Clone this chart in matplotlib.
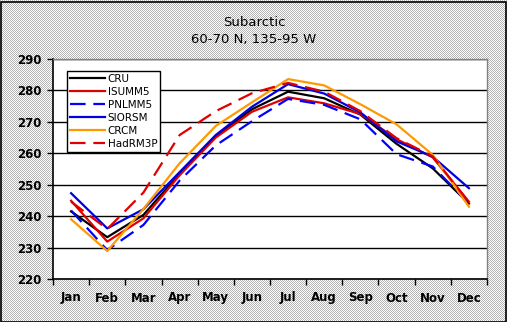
import numpy as np
import matplotlib.pyplot as plt
from matplotlib.patches import Rectangle

months = ['Jan', 'Feb', 'Mar', 'Apr', 'May', 'Jun',
          'Jul', 'Aug', 'Sep', 'Oct', 'Nov', 'Dec']

# monthly mean temperature (K)
cru = [241.5, 233.3, 240.4, 253.5, 265.5, 274.0, 279.6, 277.5, 272.3, 263.0, 255.2, 244.0]
isumm5 = [244.9, 231.9, 239.3, 253.0, 265.0, 273.2, 277.8, 275.9, 272.5, 264.5, 258.7, 244.6]
pnlmm5 = [241.8, 229.2, 237.2, 251.3, 262.5, 270.2, 277.3, 275.4, 270.8, 259.7, 255.8, 244.0]
siorsm = [247.3, 236.1, 242.2, 254.0, 265.8, 274.8, 282.0, 279.0, 273.0, 263.8, 258.9, 248.9]
crcm = [239.0, 228.9, 242.3, 256.8, 268.7, 276.2, 283.6, 281.6, 275.6, 269.2, 259.5, 243.0]
hadrm3p = [244.6, 235.9, 247.5, 265.8, 273.4, 279.1, 282.4, 279.6, 273.4, 264.8, 259.0, 244.4]

series = [
    ('CRU', cru, '#000000', '-'),
    ('ISUMM5', isumm5, '#e00000', '-'),
    ('PNLMM5', pnlmm5, '#0000ff', '--'),
    ('SIORSM', siorsm, '#0000e0', '-'),
    ('CRCM', crcm, '#ff9900', '-'),
    ('HadRM3P', hadrm3p, '#e00000', '--'),
]

W, H = 507, 322
fig = plt.figure(figsize=(W / 100, H / 100), dpi=100)

# stippled grey background
yy, xx = np.mgrid[0:H, 0:W]
checker = ((xx + yy) % 2).astype(float)
bg = np.where(checker[..., None] > 0, [1.0, 1.0, 1.0], [0.7, 0.7, 0.7])
fig.figimage(bg, xo=0, yo=0, zorder=0)
fig.patches.append(Rectangle((0.5 / W, 0.5 / H), 1 - 2 / W, 1 - 2 / H,
                             transform=fig.transFigure, fill=False,
                             edgecolor='black', linewidth=1.2, zorder=1))

ax = fig.add_axes([53 / W, 1 - 279 / H, 434 / W, 220 / H])
ax.set_zorder(2)
ax.set_facecolor('white')
x = np.arange(len(months))
for name, vals, color, ls in series:
    line, = ax.plot(x, vals, color=color, linestyle=ls, linewidth=1.6, label=name)
    if ls == '--':
        line.set_dashes((7, 3.5))

ax.set_xlim(-0.5, 11.5)
ax.set_ylim(220, 290)
ax.set_yticks(np.arange(220, 291, 10))
ax.yaxis.grid(True, color='black', linewidth=1.0)
ax.set_axisbelow(True)

ax.set_xticks(x)
ax.set_xticklabels(months)
ax.set_xticks(np.arange(-0.5, 12, 1), minor=True)
ax.tick_params(axis='x', which='major', length=0, pad=9)
ax.tick_params(axis='x', which='minor', length=4, width=1, direction='out')
ax.tick_params(axis='y', length=4, width=1, direction='out', pad=4)
for lab in ax.get_xticklabels() + ax.get_yticklabels():
    lab.set_fontweight('bold')
    lab.set_fontsize(8.5)

for side in ['left', 'bottom']:
    ax.spines[side].set_color('black')
    ax.spines[side].set_linewidth(1.2)
for side in ['top', 'right']:
    ax.spines[side].set_color('#808080')
    ax.spines[side].set_linewidth(1.0)

fig.text(254 / W, 1 - 23 / H, 'Subarctic', ha='center', va='center', fontsize=9.5)
fig.text(254 / W, 1 - 40 / H, '60-70 N, 135-95 W', ha='center', va='center', fontsize=9.5)

leg = ax.legend(loc='upper left', bbox_to_anchor=((67 - 53) / 434, (279 - 71) / 220),
                frameon=True, fancybox=False, fontsize=7.5, handlelength=3.3,
                handletextpad=0.3, labelspacing=0.28, borderpad=0.3,
                borderaxespad=0)
leg.get_frame().set_edgecolor('black')
leg.get_frame().set_linewidth(1.0)
leg.get_frame().set_alpha(1)

fig.savefig('out.png', dpi=100)
